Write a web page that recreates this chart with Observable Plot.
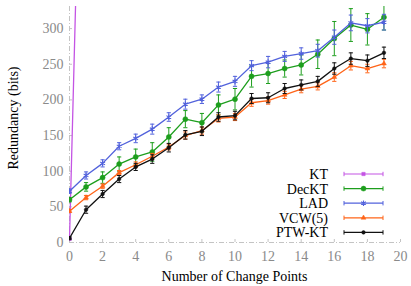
<!DOCTYPE html>
<html>
<head>
<meta charset="utf-8">
<style>
  html, body { margin: 0; padding: 0; background: #fff; font-family: 'Liberation Serif', serif; }
  #wrap { position: relative; width: 411px; height: 286px; }
  #legend { position: absolute; left: 0; top: 0; pointer-events: none; }
</style>
<script src="https://cdn.jsdelivr.net/npm/d3@7"></script>
<script src="https://cdn.jsdelivr.net/npm/@observablehq/plot@0.6"></script>
</head>
<body>
<div id="wrap"></div>
<script>
// ---- data ----
const changePoints = d3.range(0, 20);
const seriesNames = ["KT", "DecKT", "LAD", "VCW(5)", "PTW-KT"];
const seriesColors = ["#c454e4", "#1d9e1d", "#5262dc", "#ff6418", "#111111"];
const seriesSymbols = ["square", "circle", "asterisk", "triangle", "circle"];

const ktX = [0, 1];
const ktVals = [5, 900];
const ktErr = [1, 20];

const decktVals = [60, 78, 91, 110, 120, 127, 148, 173, 168, 193, 201, 233, 237, 244, 249, 264, 286, 305, 299, 316];
const decktErr  = [3, 6, 8, 10, 11, 13, 13, 12, 13, 14, 15, 15, 14, 12, 14, 20, 24, 23, 22, 18];

const ladVals = [72, 94, 111, 135, 146, 159, 176, 194, 201, 218, 226, 248, 253, 261, 265, 269, 288, 308, 304, 309];
const ladErr  = [3, 5, 5, 5, 6, 7, 6, 7, 6, 7, 7, 7, 8, 7, 8, 9, 10, 11, 10, 11];

const vcwVals = [44, 63, 79, 98, 109, 121, 134, 150, 157, 174, 176, 196, 199, 207, 215, 219, 232, 248, 244, 251];
const vcwErr  = [2, 3, 3, 3, 4, 4, 4, 5, 5, 5, 5, 5, 5, 5, 5, 5, 6, 6, 6, 6];

const ptwVals = [6, 46, 68, 89, 106, 117, 133, 151, 156, 176, 178, 202, 203, 216, 221, 226, 244, 258, 255, 266];
const ptwErr  = [2, 5, 5, 5, 5, 6, 6, 6, 6, 6, 6, 7, 7, 7, 7, 7, 8, 8, 8, 8];

const xTicks = d3.range(0, 21, 2);
const yTicks = d3.range(0, 301, 50);

// ---- build table ----
function rows(name, xs, vals, errs) {
  return xs.map((x, i) => ({series: name, x, y: vals[i], lo: vals[i] - errs[i], hi: vals[i] + errs[i]}));
}
const data = [
  ...rows("KT", ktX, ktVals, ktErr),
  ...rows("DecKT", changePoints, decktVals, decktErr),
  ...rows("LAD", changePoints, ladVals, ladErr),
  ...rows("VCW(5)", changePoints, vcwVals, vcwErr),
  ...rows("PTW-KT", changePoints, ptwVals, ptwErr)
];

const capSymbol = {
  draw(ctx, size) {
    const w = Math.sqrt(size / Math.PI);
    ctx.moveTo(-w, 0); ctx.lineTo(w, 0);
  }
};

const font = "'Liberation Serif', serif";
const tickGray = "#8a8a8a";
const axisStroke = "#c4c4c4";
const dashDot = "5,2,1,2";
const markerR = {"KT": 1.9, "DecKT": 2.5, "LAD": 2.6, "VCW(5)": 1.8, "PTW-KT": 1.8};

const marks = [
  Plot.ruleY([0], {stroke: axisStroke, strokeDasharray: dashDot, strokeWidth: 1}),
  Plot.ruleX([0], {stroke: axisStroke, strokeDasharray: dashDot, strokeWidth: 1}),
  Plot.axisX({ticks: xTicks, tickSize: -3, tickPadding: 12, stroke: axisStroke, color: tickGray, fontSize: 14, fontFamily: font, label: null}),
  Plot.axisY({ticks: yTicks, tickSize: -3, tickPadding: 9, stroke: axisStroke, color: tickGray, fontSize: 14, fontFamily: font, label: null}),
];

seriesNames.forEach((name, i) => {
  const d = data.filter(r => r.series === name);
  const c = seriesColors[i];
  const ast = seriesSymbols[i] === "asterisk";
  marks.push(
    Plot.ruleX(d, {x: "x", y1: "lo", y2: "hi", stroke: c, strokeWidth: 1, clip: true}),
    Plot.dot(d, {x: "x", y: "lo", symbol: capSymbol, r: 2.1, stroke: c, strokeWidth: 1, clip: true}),
    Plot.dot(d, {x: "x", y: "hi", symbol: capSymbol, r: 2.1, stroke: c, strokeWidth: 1, clip: true}),
    Plot.line(d, {x: "x", y: "y", stroke: c, strokeWidth: 1.3, clip: true}),
    Plot.dot(d, {x: "x", y: "y", symbol: seriesSymbols[i], r: markerR[name],
      fill: ast ? null : c, stroke: c, strokeWidth: ast ? 1.1 : 0.5, clip: true})
  );
});

const chart = Plot.plot({
  width: 411,
  height: 286,
  marginLeft: 69,
  marginRight: 11,
  marginTop: 6,
  marginBottom: 44,
  style: {fontFamily: font, background: "#fff"},
  x: {domain: [0, 20]},
  y: {domain: [0, 331]},
  marks
});

const wrap = document.getElementById("wrap");
wrap.appendChild(chart);

// axis titles
const svg = d3.select(chart);
svg.append("text")
  .attr("x", (69 + 400) / 2).attr("y", 281)
  .attr("text-anchor", "middle")
  .attr("font-family", font).attr("font-size", 14).attr("fill", "#000")
  .text("Number of Change Points");
svg.append("text")
  .attr("transform", "translate(13,118) rotate(-90)")
  .attr("text-anchor", "middle").attr("dy", "0.35em")
  .attr("font-family", font).attr("font-size", 14).attr("fill", "#000")
  .text("Redundancy (bits)");

// legend overlay
const leg = d3.select(wrap).append("svg").attr("id", "legend")
  .attr("width", 411).attr("height", 286);
seriesNames.forEach((name, i) => {
  const yy = 174 + i * 14.6;
  const c = seriesColors[i];
  const g = leg.append("g").attr("transform", `translate(0,${yy})`);
  g.append("text").attr("x", 328).attr("y", 0).attr("dy", "0.35em")
    .attr("text-anchor", "end").attr("font-family", font).attr("font-size", 14).attr("fill", "#000")
    .text(name);
  g.append("line").attr("x1", 344).attr("x2", 383).attr("stroke", c).attr("stroke-width", 1.2);
  g.append("line").attr("x1", 344).attr("x2", 344).attr("y1", -2.2).attr("y2", 2.2).attr("stroke", c);
  g.append("line").attr("x1", 383).attr("x2", 383).attr("y1", -2.2).attr("y2", 2.2).attr("stroke", c);
  const sym = {square: d3.symbolSquare, circle: d3.symbolCircle, asterisk: d3.symbolAsterisk, triangle: d3.symbolTriangle}[seriesSymbols[i]];
  const r = markerR[name];
  const ast = seriesSymbols[i] === "asterisk";
  g.append("path").attr("transform", "translate(363.5,0)")
    .attr("d", d3.symbol(sym, r * r * Math.PI)())
    .attr("fill", ast ? "none" : c)
    .attr("stroke", c).attr("stroke-width", ast ? 1.1 : 0.5);
});
</script>
</body>
</html>
